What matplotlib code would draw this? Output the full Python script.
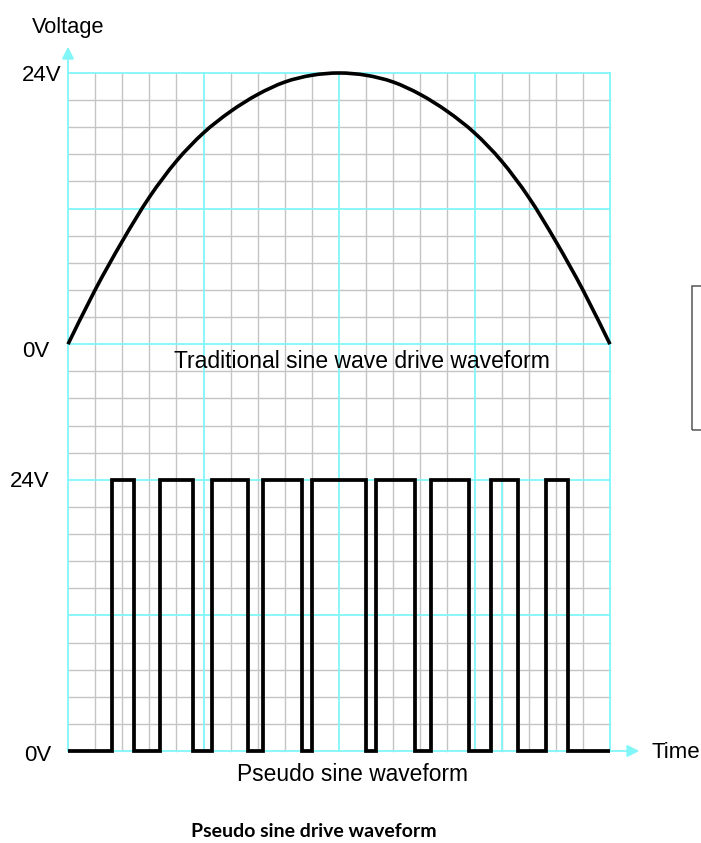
import numpy as np
import matplotlib
matplotlib.use("Agg")
import matplotlib.pyplot as plt
from matplotlib.patches import Rectangle, PathPatch
from matplotlib.path import Path

plt.rcParams['font.family'] = ['Liberation Sans', 'DejaVu Sans']

# time axis in grid cells (20 cells wide), voltages in volts
sine_t = list(range(21))
sine_v = [0, 4.8, 9.1, 13.0, 16.2, 18.7, 20.6, 22.1, 23.2, 23.8, 24.0,
          23.8, 23.2, 22.1, 20.6, 18.7, 16.2, 13.0, 9.1, 4.8, 0]

pulse_rise = [1.63, 3.41, 5.32, 7.20, 9.01, 11.35, 13.41, 15.61, 17.63]
pulse_fall = [2.42, 4.62, 6.63, 8.62, 10.98, 12.82, 14.81, 16.59, 18.44]
pulse_high = 24
t_end = 20

volt_labels = ["24V", "0V", "24V", "0V"]

VPC = 2.4          # volts per grid cell
UP = 15            # upper panel baseline (cells)
LOW = 0            # lower panel baseline
cyan = '#80f6f8'
gray = '#c4c4c4'


def smooth_path(xs, ys):
    # cubic bezier through every point (catmull-rom tangents)
    pts = np.column_stack([xs, ys]).astype(float)
    verts = [pts[0]]
    codes = [Path.MOVETO]
    n = len(pts)
    for i in range(n - 1):
        p0 = pts[max(i - 1, 0)]
        p1 = pts[i]
        p2 = pts[i + 1]
        p3 = pts[min(i + 2, n - 1)]
        verts += [p1 + (p2 - p0) / 6, p2 - (p3 - p1) / 6, p2]
        codes += [Path.CURVE4] * 3
    return Path(verts, codes)


fig = plt.figure(figsize=(7.01, 8.43), dpi=100)
ax = fig.add_axes([0, 0, 1, 1])
ax.set_xlim(-68 / 27.1, (701 - 68) / 27.1)
ax.set_ylim(-92 / 27.12, (843 - 92) / 27.12)
ax.axis('off')

# fine grid
for i in range(21):
    if i % 5:
        ax.plot([i, i], [0, 25], color=gray, lw=1.0, zorder=1)
for j in range(26):
    if j % 5:
        ax.plot([0, 20], [j, j], color=gray, lw=1.0, zorder=1)
# major grid
for i in range(0, 21, 5):
    ax.plot([i, i], [0, 25], color=cyan, lw=1.3, zorder=2)
for j in range(0, 26, 5):
    ax.plot([0, 20], [j, j], color=cyan, lw=1.3, zorder=2)
ax.plot([16, 16], [0, 10], color=cyan, lw=1.3, zorder=2)

# axes arrows
ax.annotate('', xy=(0, 25.97), xytext=(0, 25), zorder=3,
            arrowprops=dict(arrowstyle='-|>', color=cyan, lw=1.3,
                            mutation_scale=18, shrinkA=0, shrinkB=0))
ax.annotate('', xy=(21.08, 0), xytext=(20, 0), zorder=3,
            arrowprops=dict(arrowstyle='-|>', color=cyan, lw=1.3,
                            mutation_scale=18, shrinkA=0, shrinkB=0))

# sine wave
ax.add_patch(PathPatch(smooth_path(sine_t, [UP + v / VPC for v in sine_v]),
                       fill=False, edgecolor='black', lw=2.6, capstyle='butt',
                       zorder=4))

# pseudo sine pulses
px, py = [0], [0]
for r, f in zip(pulse_rise, pulse_fall):
    px += [r, r, f, f]
    py += [0, pulse_high, pulse_high, 0]
px.append(t_end)
py.append(0)
ax.plot(px, [LOW + v / VPC for v in py], color='black', lw=2.7,
        solid_joinstyle='miter', solid_capstyle='butt', zorder=4)

# labels
fs = 16
ax.text(-1.33, 26.66, "Voltage", fontsize=15.7, ha='left', va='center')
ax.text(-0.23, 24.9, volt_labels[0], fontsize=fs, ha='right', va='center')
ax.text(-0.69, 14.72, volt_labels[1], fontsize=fs, ha='right', va='center')
ax.text(-0.67, 9.92, volt_labels[2], fontsize=fs, ha='right', va='center')
ax.text(-0.6, -0.15, volt_labels[3], fontsize=fs, ha='right', va='center')
ax.text(21.54, -0.05, "Time", fontsize=fs, ha='left', va='center')
ax.text(10.85, 14.35, "Traditional sine wave drive waveform", fontsize=16.5,
        ha='center', va='center')
ax.text(10.48, -0.88, "Pseudo sine waveform", fontsize=16.4, ha='center', va='center')
ax.text(9.08, -2.95, "Pseudo sine drive waveform", fontsize=14, ha='center',
        va='center', fontweight='bold', family=['Lato', 'DejaVu Sans'])

# side box (cut off by the figure edge)
ax.add_patch(Rectangle((23.03, 11.84), 5, 17.15 - 11.84, fill=False,
                       edgecolor='#555555', lw=1.1, clip_on=False))

fig.savefig('out.png', dpi=100)
